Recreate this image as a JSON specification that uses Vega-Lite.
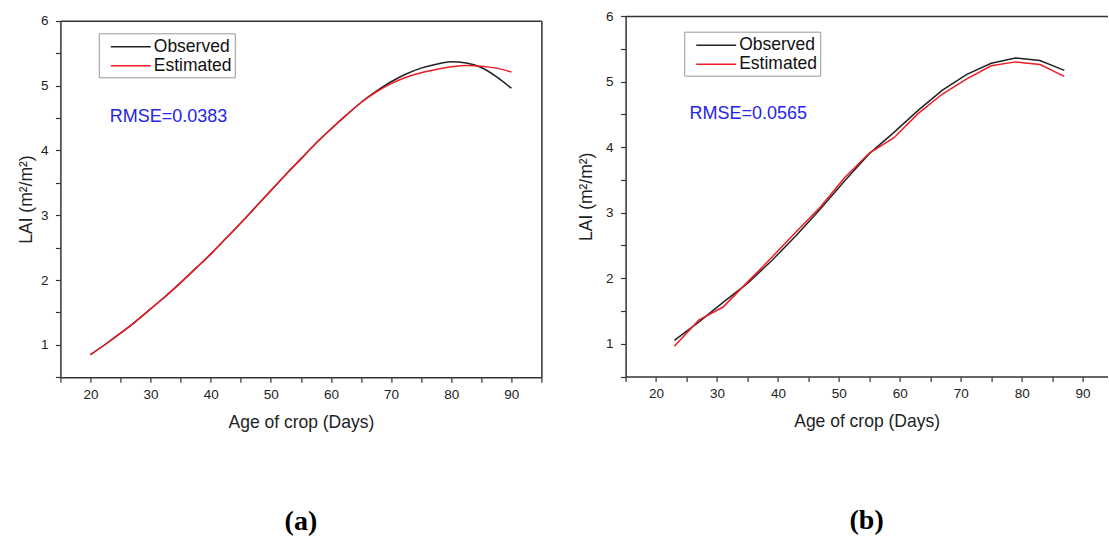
{
  "$schema": "https://vega.github.io/schema/vega-lite/v6.json",
  "background": "white",
  "padding": {"left": 16.4, "top": 9, "right": 0, "bottom": 0},
  "spacing": 34.2,
  "config": {
    "font": "Liberation Sans",
    "view": {"stroke": null},
    "axis": {
      "domainColor": "#333333", "domainWidth": 1.5,
      "tickColor": "#333333", "tickWidth": 1.2, "tickSize": 5,
      "labelFont": "Liberation Sans", "labelFontSize": 13.5, "labelColor": "#222222",
      "titleFont": "Liberation Sans", "titleFontSize": 17.5, "titleFontWeight": "normal", "titleColor": "#222222",
      "grid": false
    },
    "axisX": {"labelPadding": 5.5, "titlePadding": 12},
    "axisY": {"labelPadding": 7.5},
    "title": {"font": "Liberation Serif", "fontSize": 28, "fontWeight": "bold", "color": "#000000"}
  },
  "datasets": {
    "a": [
      {"day": 20, "series": "Observed", "lai": 0.85},
      {"day": 22.5, "series": "Observed", "lai": 1.01},
      {"day": 25, "series": "Observed", "lai": 1.18},
      {"day": 27.5, "series": "Observed", "lai": 1.36},
      {"day": 30, "series": "Observed", "lai": 1.555},
      {"day": 32.5, "series": "Observed", "lai": 1.75},
      {"day": 35, "series": "Observed", "lai": 1.96},
      {"day": 37.5, "series": "Observed", "lai": 2.18},
      {"day": 40, "series": "Observed", "lai": 2.40},
      {"day": 42.5, "series": "Observed", "lai": 2.64},
      {"day": 45, "series": "Observed", "lai": 2.88},
      {"day": 47.5, "series": "Observed", "lai": 3.13},
      {"day": 50, "series": "Observed", "lai": 3.38},
      {"day": 52.5, "series": "Observed", "lai": 3.63},
      {"day": 55, "series": "Observed", "lai": 3.87},
      {"day": 57.5, "series": "Observed", "lai": 4.11},
      {"day": 60, "series": "Observed", "lai": 4.33},
      {"day": 62.5, "series": "Observed", "lai": 4.54},
      {"day": 65, "series": "Observed", "lai": 4.74},
      {"day": 67.5, "series": "Observed", "lai": 4.91},
      {"day": 70, "series": "Observed", "lai": 5.06},
      {"day": 72.5, "series": "Observed", "lai": 5.18},
      {"day": 75, "series": "Observed", "lai": 5.27},
      {"day": 77.5, "series": "Observed", "lai": 5.33},
      {"day": 80, "series": "Observed", "lai": 5.37},
      {"day": 82.5, "series": "Observed", "lai": 5.35},
      {"day": 85, "series": "Observed", "lai": 5.28},
      {"day": 87.5, "series": "Observed", "lai": 5.14},
      {"day": 90, "series": "Observed", "lai": 4.96},
      {"day": 20, "series": "Estimated", "lai": 0.85},
      {"day": 22.5, "series": "Estimated", "lai": 1.01},
      {"day": 25, "series": "Estimated", "lai": 1.18},
      {"day": 27.5, "series": "Estimated", "lai": 1.36},
      {"day": 30, "series": "Estimated", "lai": 1.555},
      {"day": 32.5, "series": "Estimated", "lai": 1.75},
      {"day": 35, "series": "Estimated", "lai": 1.96},
      {"day": 37.5, "series": "Estimated", "lai": 2.18},
      {"day": 40, "series": "Estimated", "lai": 2.40},
      {"day": 42.5, "series": "Estimated", "lai": 2.64},
      {"day": 45, "series": "Estimated", "lai": 2.88},
      {"day": 47.5, "series": "Estimated", "lai": 3.13},
      {"day": 50, "series": "Estimated", "lai": 3.38},
      {"day": 52.5, "series": "Estimated", "lai": 3.63},
      {"day": 55, "series": "Estimated", "lai": 3.87},
      {"day": 57.5, "series": "Estimated", "lai": 4.11},
      {"day": 60, "series": "Estimated", "lai": 4.33},
      {"day": 62.5, "series": "Estimated", "lai": 4.54},
      {"day": 65, "series": "Estimated", "lai": 4.74},
      {"day": 67.5, "series": "Estimated", "lai": 4.90},
      {"day": 70, "series": "Estimated", "lai": 5.03},
      {"day": 72.5, "series": "Estimated", "lai": 5.13},
      {"day": 75, "series": "Estimated", "lai": 5.20},
      {"day": 77.5, "series": "Estimated", "lai": 5.25},
      {"day": 80, "series": "Estimated", "lai": 5.29},
      {"day": 82.5, "series": "Estimated", "lai": 5.31},
      {"day": 85, "series": "Estimated", "lai": 5.30},
      {"day": 87.5, "series": "Estimated", "lai": 5.27},
      {"day": 90, "series": "Estimated", "lai": 5.21}
    ],
    "b": [
      {"day": 23, "series": "Observed", "lai": 1.05},
      {"day": 27, "series": "Observed", "lai": 1.33},
      {"day": 31, "series": "Observed", "lai": 1.63},
      {"day": 35, "series": "Observed", "lai": 1.92},
      {"day": 39, "series": "Observed", "lai": 2.27},
      {"day": 43, "series": "Observed", "lai": 2.65},
      {"day": 47, "series": "Observed", "lai": 3.06},
      {"day": 51, "series": "Observed", "lai": 3.49},
      {"day": 55, "series": "Observed", "lai": 3.90},
      {"day": 59, "series": "Observed", "lai": 4.22},
      {"day": 63, "series": "Observed", "lai": 4.56},
      {"day": 67, "series": "Observed", "lai": 4.87},
      {"day": 71, "series": "Observed", "lai": 5.11},
      {"day": 75, "series": "Observed", "lai": 5.28},
      {"day": 79, "series": "Observed", "lai": 5.36},
      {"day": 83, "series": "Observed", "lai": 5.32},
      {"day": 87, "series": "Observed", "lai": 5.17},
      {"day": 23, "series": "Estimated", "lai": 0.96},
      {"day": 27, "series": "Estimated", "lai": 1.36},
      {"day": 31, "series": "Estimated", "lai": 1.56},
      {"day": 35, "series": "Estimated", "lai": 1.94},
      {"day": 39, "series": "Estimated", "lai": 2.32},
      {"day": 43, "series": "Estimated", "lai": 2.71},
      {"day": 47, "series": "Estimated", "lai": 3.09},
      {"day": 51, "series": "Estimated", "lai": 3.54},
      {"day": 55, "series": "Estimated", "lai": 3.91},
      {"day": 59, "series": "Estimated", "lai": 4.14},
      {"day": 63, "series": "Estimated", "lai": 4.51},
      {"day": 67, "series": "Estimated", "lai": 4.81},
      {"day": 71, "series": "Estimated", "lai": 5.04},
      {"day": 75, "series": "Estimated", "lai": 5.24},
      {"day": 79, "series": "Estimated", "lai": 5.30},
      {"day": 83, "series": "Estimated", "lai": 5.26},
      {"day": 87, "series": "Estimated", "lai": 5.08}
    ],
    "ta": [{"day": 23.2, "lai": 4.52, "label": "RMSE=0.0383"}],
    "tb": [{"day": 25.5, "lai": 4.5, "label": "RMSE=0.0565"}]
  },
  "resolve": {"scale": {"x": "independent", "y": "independent", "color": "independent"}, "legend": {"color": "independent"}},
  "hconcat": [
    {
      "width": 481,
      "height": 360.5,
      "title": {"text": "(a)", "orient": "bottom", "anchor": "middle", "offset": 77},
      "resolve": {"axis": {"x": "independent", "y": "independent"}},
      "layer": [
        {
          "data": {"name": "a"},
          "mark": {"type": "line", "interpolate": "monotone", "strokeWidth": 1.5},
          "encoding": {
            "x": {"field": "day", "type": "quantitative", "scale": {"domain": [15, 95], "nice": false, "zero": false},
              "axis": {"title": "Age of crop (Days)", "offset": 0.8, "values": [15, 20, 25, 30, 35, 40, 45, 50, 55, 60, 65, 70, 75, 80, 85, 90, 95],
                "labelExpr": "datum.value % 10 === 0 ? datum.label : ''"}},
            "y": {"field": "lai", "type": "quantitative", "scale": {"domain": [0.5, 6], "range": [361.3, 4.8], "nice": false, "zero": false},
              "axis": {"title": "LAI (m²/m²)", "titlePadding": 5, "values": [0.5, 1, 1.5, 2, 2.5, 3, 3.5, 4, 4.5, 5, 5.5, 6],
                "labelExpr": "datum.value % 1 === 0 ? format(datum.value, 'd') : ''"}},
            "color": {"field": "series", "type": "nominal",
              "scale": {"domain": ["Observed", "Estimated"], "range": ["#222222", "#ee1c25"]},
              "legend": {"orient": "none", "legendX": 38.4, "legendY": 17.3, "title": null, "symbolType": "M-2.1,0H2.1",
                "symbolSize": 361, "symbolStrokeWidth": 1.5, "labelFontSize": 17.5, "labelFont": "Liberation Sans",
                "labelColor": "#111111", "strokeColor": "#999999", "fillColor": "white", "padding": 3,
                "symbolOffset": 18.5, "labelOffset": 12.5, "rowPadding": 0}}
          }
        },
        {
          "data": {"name": "ta"},
          "mark": {"type": "text", "align": "left", "baseline": "middle", "fontSize": 18, "color": "#2525e8", "font": "Liberation Sans"},
          "encoding": {
            "x": {"field": "day", "type": "quantitative", "scale": {"domain": [15, 95], "nice": false, "zero": false},
              "axis": {"orient": "top", "offset": -4.8, "domain": true, "labels": false, "ticks": false, "title": null, "values": [50]}},
            "y": {"field": "lai", "type": "quantitative", "scale": {"domain": [0.5, 6], "range": [361.3, 4.8], "nice": false, "zero": false},
              "axis": {"orient": "right", "domain": true, "labels": false, "ticks": false, "title": null, "values": [3]}},
            "text": {"field": "label"}
          }
        }
      ]
    },
    {
      "width": 482,
      "height": 360.5,
      "title": {"text": "(b)", "orient": "bottom", "anchor": "middle", "offset": 77},
      "resolve": {"axis": {"x": "independent"}},
      "layer": [
        {
          "data": {"name": "b"},
          "mark": {"type": "line", "interpolate": "linear", "strokeWidth": 1.5},
          "encoding": {
            "x": {"field": "day", "type": "quantitative", "scale": {"domain": [15, 94.1], "nice": false, "zero": false},
              "axis": {"title": "Age of crop (Days)", "values": [15, 20, 25, 30, 35, 40, 45, 50, 55, 60, 65, 70, 75, 80, 85, 90],
                "labelExpr": "datum.value % 10 === 0 ? datum.label : ''"}},
            "y": {"field": "lai", "type": "quantitative", "scale": {"domain": [0.5, 6], "nice": false, "zero": false},
              "axis": {"title": "LAI (m²/m²)", "titlePadding": 10.3, "values": [0.5, 1, 1.5, 2, 2.5, 3, 3.5, 4, 4.5, 5, 5.5, 6],
                "labelExpr": "datum.value % 1 === 0 ? format(datum.value, 'd') : ''"}},
            "color": {"field": "series", "type": "nominal",
              "scale": {"domain": ["Observed", "Estimated"], "range": ["#222222", "#ee1c25"]},
              "legend": {"orient": "none", "legendX": 58.6, "legendY": 15.7, "title": null, "symbolType": "M-2.1,0H2.1",
                "symbolSize": 361, "symbolStrokeWidth": 1.5, "labelFontSize": 17.5, "labelFont": "Liberation Sans",
                "labelColor": "#111111", "strokeColor": "#999999", "fillColor": "white", "padding": 3,
                "symbolOffset": 18.5, "labelOffset": 12.5, "rowPadding": 0}}
          }
        },
        {
          "data": {"name": "tb"},
          "mark": {"type": "text", "align": "left", "baseline": "middle", "fontSize": 18, "color": "#2525e8", "font": "Liberation Sans"},
          "encoding": {
            "x": {"field": "day", "type": "quantitative", "scale": {"domain": [15, 94.1], "nice": false, "zero": false},
              "axis": {"orient": "top", "domain": true, "labels": false, "ticks": false, "title": null, "values": [50]}},
            "y": {"field": "lai", "type": "quantitative", "scale": {"domain": [0.5, 6], "nice": false, "zero": false},
              "axis": {"title": "LAI (m²/m²)", "titlePadding": 10.3, "values": [0.5, 1, 1.5, 2, 2.5, 3, 3.5, 4, 4.5, 5, 5.5, 6],
                "labelExpr": "datum.value % 1 === 0 ? format(datum.value, 'd') : ''"}},
            "text": {"field": "label"}
          }
        }
      ]
    }
  ]
}
